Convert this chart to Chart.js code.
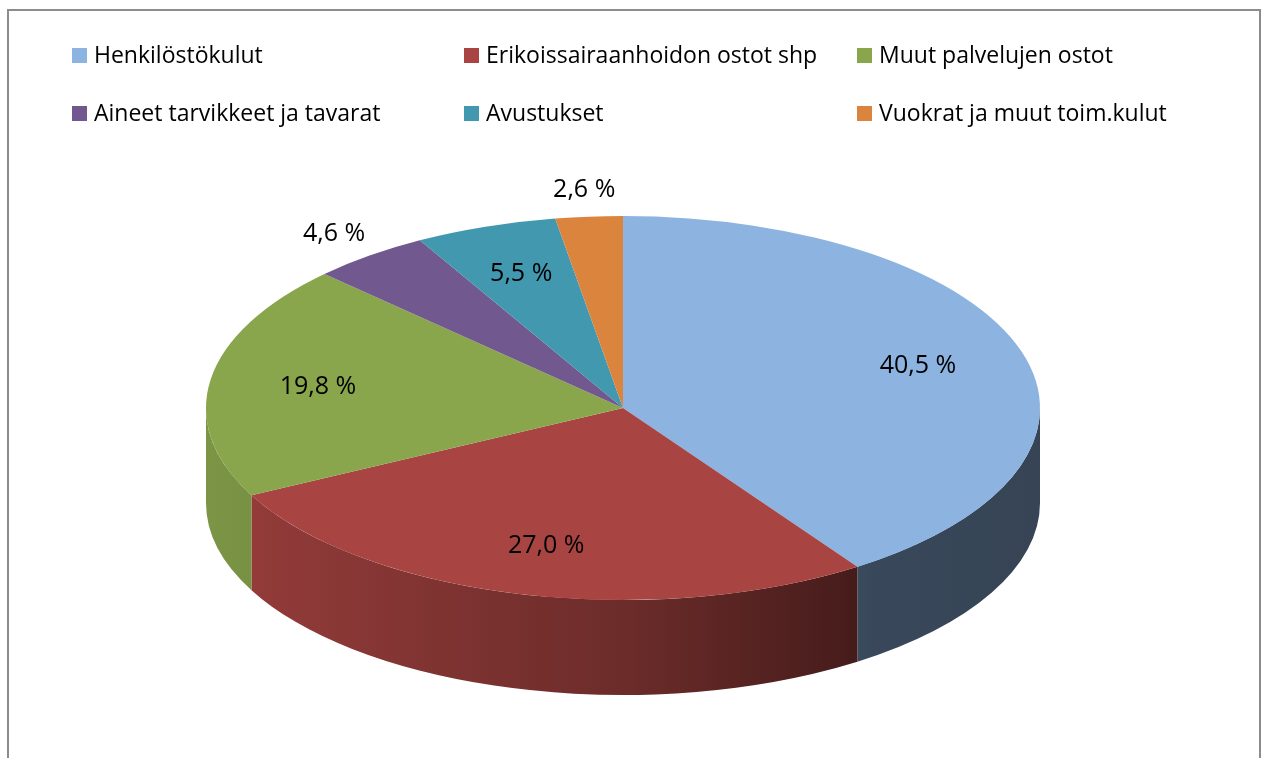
<!DOCTYPE html>
<html>
<head>
<meta charset="utf-8">
<script src="https://cdn.jsdelivr.net/npm/chart.js@4.4.1/dist/chart.umd.min.js"></script>
<style>
  html, body { margin: 0; padding: 0; background: #fff; }
  #wrap { position: relative; width: 1272px; height: 758px; }
</style>
</head>
<body>
<div id="wrap"><canvas id="costPie" width="1272" height="758"></canvas></div>
<script>
const categories = [
  'Henkilöstökulut',
  'Erikoissairaanhoidon ostot shp',
  'Muut palvelujen ostot',
  'Aineet tarvikkeet ja tavarat',
  'Avustukset',
  'Vuokrat ja muut toim.kulut'
];
const shares = [40.5, 27.0, 19.8, 4.6, 5.5, 2.6];
const sliceColors = ['#8db3e0', '#a84442', '#8aa64d', '#71588f', '#4198af', '#db843d'];

// the flat pie gets squashed onto this ellipse, rim hangs below it
const pie3d = { cx: 623, cy: 408, rx: 417, ry: 192, depth: 95 };

function shade(hex, f) {
  const n = parseInt(hex.slice(1), 16);
  const r = Math.round(((n >> 16) & 255) * f);
  const g = Math.round(((n >> 8) & 255) * f);
  const b = Math.round((n & 255) * f);
  return `rgb(${r},${g},${b})`;
}

function fmt(v) {
  return v.toFixed(1).replace('.', ',') + ' %';
}

const rimPlugin = {
  id: 'rim3d',
  beforeDatasetsDraw(chart) {
    const ctx = chart.ctx;
    const meta = chart.getDatasetMeta(0);
    const { cx, cy, rx, ry, depth } = pie3d;

    // outer walls, only the part facing the viewer (0..PI)
    meta.data.forEach((arc, i) => {
      const a0 = Math.max(arc.startAngle, 0);
      const a1 = Math.min(arc.endAngle, Math.PI);
      if (a1 <= a0) return;
      const grad = ctx.createLinearGradient(cx - rx, 0, cx + rx, 0);
      grad.addColorStop(0, shade(sliceColors[i], 0.9));
      grad.addColorStop(0.5, shade(sliceColors[i], 0.64));
      grad.addColorStop(0.8, shade(sliceColors[i], 0.4));
      grad.addColorStop(1, shade(sliceColors[i], 0.38));
      ctx.beginPath();
      ctx.ellipse(cx, cy, rx, ry, 0, a0, a1, false);
      ctx.ellipse(cx, cy + depth, rx, ry, 0, a1, a0, true);
      ctx.closePath();
      ctx.fillStyle = grad;
      ctx.fill();
    });

    // squash the round pie into the top face
    const first = meta.data[0];
    const R = first.outerRadius;
    ctx.save();
    ctx.translate(cx, cy);
    ctx.scale(rx / R, ry / R);
    ctx.translate(-first.x, -first.y);
  },
  afterDatasetsDraw(chart) {
    const ctx = chart.ctx;
    ctx.restore();

    const meta = chart.getDatasetMeta(0);
    const { cx, cy, rx, ry } = pie3d;
    ctx.save();
    ctx.font = '25px "Open Sans"';
    ctx.fillStyle = '#000';
    ctx.textAlign = 'center';
    ctx.textBaseline = 'middle';
    meta.data.forEach((arc, i) => {
      const mid = (arc.startAngle + arc.endAngle) / 2;
      const k = shares[i] < 5 ? 1.14 : 0.74;
      const x = cx + Math.cos(mid) * rx * k;
      const y = cy + Math.sin(mid) * ry * k;
      ctx.fillText(fmt(shares[i]), x, y);
    });
    ctx.restore();
  },
  afterDraw(chart) {
    const ctx = chart.ctx;
    ctx.save();
    // outer frame
    ctx.strokeStyle = '#8c8c8c';
    ctx.lineWidth = 2;
    ctx.strokeRect(8, 10, 1252, 800);

    // legend: three columns, two rows
    const colX = [72, 464, 857];
    const rowY = [48, 106];
    ctx.font = '23px "Open Sans"';
    ctx.textBaseline = 'alphabetic';
    categories.forEach((name, i) => {
      const x = colX[i % 3];
      const y = rowY[Math.floor(i / 3)];
      ctx.fillStyle = sliceColors[i];
      ctx.fillRect(x, y, 15, 15);
      ctx.fillStyle = '#000';
      ctx.fillText(name, x + 22, y + 15);
    });
    ctx.restore();
  }
};

new Chart(document.getElementById('costPie'), {
  type: 'pie',
  data: {
    labels: categories,
    datasets: [{
      data: shares,
      backgroundColor: sliceColors,
      borderWidth: 0,
      clip: false
    }]
  },
  options: {
    responsive: false,
    animation: false,
    events: [],
    plugins: {
      legend: { display: false },
      tooltip: { enabled: false }
    }
  },
  plugins: [rimPlugin]
});
</script>
</body>
</html>
